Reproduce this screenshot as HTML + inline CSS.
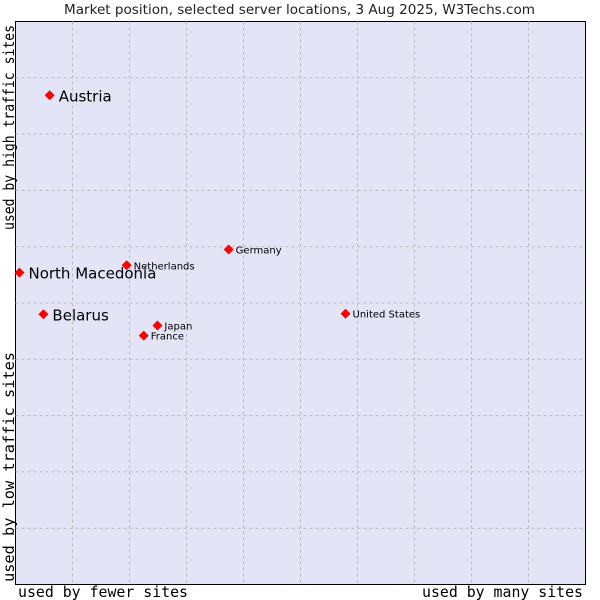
<!DOCTYPE html>
<html><head><meta charset="utf-8"><style>
body{margin:0;background:#fff;width:600px;height:600px;overflow:hidden}
svg{display:block}
</style></head><body>
<svg id="chart" width="600" height="600">
<text x="64" y="14" textLength="471" lengthAdjust="spacingAndGlyphs" font-family="DejaVu Sans, sans-serif" font-size="13" fill="#222">Market position, selected server locations, 3 Aug 2025, W3Techs.com</text>
<rect x="15.5" y="21.5" width="570" height="563" fill="#e4e4f7" stroke="#000" stroke-width="1"/>
<g id="grid"></g>
<text x="18" y="597" textLength="170" lengthAdjust="spacingAndGlyphs" font-family="DejaVu Sans Mono, monospace" font-size="15" fill="#000">used by fewer sites</text>
<text x="422" y="597" textLength="161" lengthAdjust="spacingAndGlyphs" font-family="DejaVu Sans Mono, monospace" font-size="15" fill="#000">used by many sites</text>
<text transform="translate(14,582) rotate(-90)" textLength="230" lengthAdjust="spacingAndGlyphs" font-family="DejaVu Sans Mono, monospace" font-size="15" fill="#000">used by low traffic sites</text>
<text transform="translate(14,230) rotate(-90)" textLength="205" lengthAdjust="spacingAndGlyphs" font-family="DejaVu Sans Mono, monospace" font-size="15" fill="#000">used by high traffic sites</text>
<g id="points"></g>
</svg>
<script>
const names=["Austria","North Macedonia","Belarus","Netherlands","Germany","United States","Japan","France"];
const xVals=[6.0,0.7,4.9,19.5,37.4,57.9,24.9,22.5];
const yVals=[86.9,55.4,48.0,56.7,59.5,48.1,46.0,44.2];
const big=[true,true,true,false,false,false,false,false];
const NS="http://www.w3.org/2000/svg";
const X0=15.5,X1=585.5,Y0=584.5,Y1=21.5;
const sx=v=>X0+(X1-X0)*v/100, sy=v=>Y0-(Y0-Y1)*v/100;
const grid=document.getElementById('grid');
for(let i=1;i<10;i++){
  const v=document.createElementNS(NS,'line');
  v.setAttribute('x1',sx(i*10));v.setAttribute('x2',sx(i*10));v.setAttribute('y1',Y1);v.setAttribute('y2',Y0);
  v.setAttribute('stroke','#bbb');v.setAttribute('stroke-dasharray','3,3');
  
  
  grid.appendChild(v);
  const h=document.createElementNS(NS,'line');
  h.setAttribute('y1',sy(i*10));h.setAttribute('y2',sy(i*10));h.setAttribute('x1',X0);h.setAttribute('x2',X1);
  h.setAttribute('stroke','#bbb');h.setAttribute('stroke-dasharray','3,3');
  
  
  grid.appendChild(h);
}
const pts=document.getElementById('points');
names.forEach((n,i)=>{
  const x=sx(xVals[i]),y=sy(yVals[i]);
  const d=document.createElementNS(NS,'path');
  d.setAttribute('d',`M${x-5},${y} L${x},${y-5} L${x+5},${y} L${x},${y+5} Z`);
  d.setAttribute('fill','#f00');
  
  
  pts.appendChild(d);
  const t=document.createElementNS(NS,'text');
  t.setAttribute('x',x+(big[i]?9:7));t.setAttribute('y',y+(big[i]?6:4));
  t.setAttribute('font-family','DejaVu Sans, sans-serif');
  t.setAttribute('font-size',big[i]?'15':'10');
  t.setAttribute('fill','#000');
  t.textContent=n;
  
  
  pts.appendChild(t);
});
</script>
</body></html>
